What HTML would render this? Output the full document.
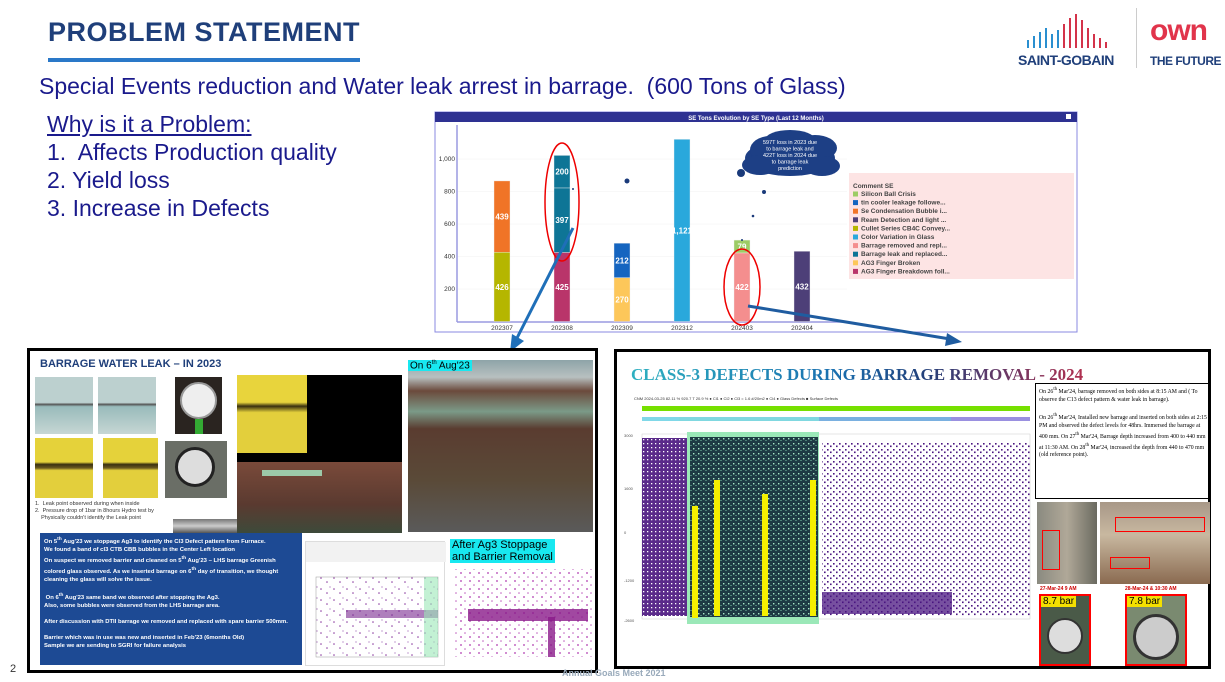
<!DOCTYPE html>
<html><head><meta charset="utf-8">
<style>
*{margin:0;padding:0;box-sizing:border-box}
body{width:1225px;height:682px;position:relative;background:#fff;font-family:"Liberation Sans",sans-serif;overflow:hidden}
.a{position:absolute}
.t{font-size:23px;color:#1a1a8c;line-height:28px;white-space:nowrap}
</style></head><body>
<div class="a" style="left:48px;top:17px;font-size:27px;font-weight:bold;color:#1f3f7a;letter-spacing:0.5px">PROBLEM STATEMENT</div>
<div class="a" style="left:48px;top:58px;width:312px;height:4px;background:#2a78c8"></div>
<div class="a" style="left:1018px;top:10px;width:110px;height:60px">
 <svg width="105" height="40" style="position:absolute;left:0;top:0"><g fill="none" stroke-width="2"><path d="M10 38 V30 M16 38 V26 M22 38 V22 M28 38 V18 M34 38 V24 M40 38 V20" stroke="#2a8fd0"/><path d="M46 38 V14 M52 38 V8 M58 38 V4 M64 38 V10 M70 38 V18 M76 38 V24 M82 38 V28 M88 38 V32" stroke="#d4334a"/></g></svg>
 <div class="a" style="left:0;top:42px;font-size:14px;font-weight:bold;color:#1f3f7a;white-space:nowrap;letter-spacing:-0.5px">SAINT-GOBAIN</div>
</div>
<div class="a" style="left:1136px;top:8px;width:1px;height:60px;background:#ccc"></div>
<div class="a" style="left:1150px;top:14px;font-size:30px;font-weight:bold;color:#e1344b;letter-spacing:-1px">own</div>
<div class="a" style="left:1150px;top:54px;font-size:12px;font-weight:bold;color:#1f3f7a;white-space:nowrap;letter-spacing:-0.5px">THE FUTURE</div>

<div class="a t" style="left:39px;top:72px">Special Events reduction and Water leak arrest in barrage.&nbsp; (600 Tons of Glass)</div>
<div class="a t" style="left:47px;top:110px;text-decoration:underline">Why is it a Problem<span style="text-decoration:none">:</span></div>
<div class="a t" style="left:47px;top:138px">1.&nbsp; Affects Production quality</div>
<div class="a t" style="left:47px;top:166px">2. Yield loss</div>
<div class="a t" style="left:47px;top:194px">3. Increase in Defects</div>

<svg class="a" id="chart" style="left:0;top:0" width="1225" height="682"></svg>

<!-- left panel -->
<div class="a" style="left:27px;top:348px;width:571px;height:325px;border:3px solid #000;background:#fff">
 <div class="a" style="left:10px;top:7px;font-size:11px;font-weight:bold;color:#1f3f7a">BARRAGE WATER LEAK – IN 2023</div>
 <div class="a" style="left:5px;top:26px;width:58px;height:57px;background:linear-gradient(#bcd0cf 45%,#555 48%,#9bb 52%,#c6d6d4)"></div>
 <div class="a" style="left:68px;top:26px;width:58px;height:57px;background:linear-gradient(#bcd0cf 45%,#555 48%,#9bb 52%,#c6d6d4)"></div>
 <div class="a" style="left:145px;top:26px;width:47px;height:57px;background:#2a2420"><div class="a" style="left:5px;top:5px;width:37px;height:37px;border-radius:50%;background:#eee;border:2px solid #999"></div><div class="a" style="left:20px;top:42px;width:8px;height:15px;background:#3a3"></div></div>
 <div class="a" style="left:5px;top:87px;width:58px;height:60px;background:linear-gradient(#e5d23a 40%,#3a3010 44%,#6a5a20 50%,#e3cf3c 54%)"></div>
 <div class="a" style="left:73px;top:87px;width:55px;height:60px;background:linear-gradient(#e5d23a 40%,#3a3010 44%,#6a5a20 50%,#e3cf3c 54%)"></div>
 <div class="a" style="left:135px;top:90px;width:62px;height:57px;background:#6a6e66"><div class="a" style="left:10px;top:6px;width:40px;height:40px;border-radius:50%;background:#ddd;border:3px solid #222"></div></div>
 <div class="a" style="left:5px;top:150px;font-size:5.5px;color:#333;line-height:7px">1.&nbsp; Leak point observed during when inside<br>2.&nbsp; Pressure drop of 1bar in 8hours Hydro test by<br>&nbsp;&nbsp;&nbsp;&nbsp;Physically couldn't identify the Leak point</div>
 <div class="a" style="left:143px;top:168px;width:65px;height:14px;background:linear-gradient(#777,#ccc,#555)"></div>
 <div class="a" style="left:207px;top:24px;width:165px;height:87px;background:#000"><div class="a" style="left:0;top:0;width:70px;height:78px;background:linear-gradient(#e8d43c 35%,#3a3010 40%,#e3cf3c 48%)"></div></div>
 <div class="a" style="left:207px;top:111px;width:165px;height:71px;background:linear-gradient(#7a4a3a,#5a3a30 60%,#3d4a3a)"><div class="a" style="left:25px;top:8px;width:60px;height:6px;background:#9cc9a8"></div></div>
 <div class="a" style="left:378px;top:9px;width:185px;height:172px;background:linear-gradient(#8ea4a8 0,#b8c0c0 10%,#6b4a3c 18%,#7b9a88 30%,#5a3c30 40%,#5a4a38 70%,#5a5a5a 100%)"></div>
 <div class="a" style="left:378px;top:9px;background:#18e8f0;font-size:10px;padding:0 2px">On 6<sup style="font-size:6px">th</sup> Aug'23</div>
 <div class="a" style="left:10px;top:182px;width:262px;height:132px;background:#1d4a94;color:#fff;font-size:5.9px;font-weight:bold;line-height:7.9px;padding:3px 4px;overflow:hidden">On 5<sup>th</sup> Aug'23 we stoppage Ag3 to identify the Cl3 Defect pattern from Furnace.<br>We found a band of cl3 CTB CBB bubbles in the Center Left location<br>On suspect we removed barrier and cleaned on 5<sup>th</sup> Aug'23 – LHS barrage Greenish colored glass observed. As we inserted barrage on 6<sup>th</sup> day of transition, we thought cleaning the glass will solve the issue.<br><br>&nbsp;On 6<sup>th</sup> Aug'23 same band we observed after stopping the Ag3.<br>Also, some bubbles were observed from the LHS barrage area.<br><br>After discussion with DTII barrage we removed and replaced with spare barrier 500mm.<br><br>Barrier which was in use was new and inserted in Feb'23 (6months Old)<br>Sample we are sending to SGRI for failure analysis</div>
 <div class="a" style="left:275px;top:190px;width:140px;height:125px;background:#fff;border:1px solid #ddd">
  <svg width="140" height="125"><defs><pattern id="pd1" width="13" height="11" patternUnits="userSpaceOnUse"><circle cx="2" cy="3" r=".8" fill="#8a3aa0"/><circle cx="8" cy="7" r=".8" fill="#8a3aa0"/><circle cx="11" cy="1" r=".6" fill="#9a5ab0"/></pattern></defs><rect x="0" y="0" width="140" height="20" fill="#f2f2f2"/><rect x="10" y="35" width="122" height="80" fill="url(#pd1)" stroke="#999" stroke-width=".5"/><rect x="40" y="68" width="92" height="8" fill="#7a2a90" opacity=".6"/><rect x="118" y="35" width="14" height="80" fill="#9be8b8" opacity=".6"/></svg></div>
 <div class="a" style="left:420px;top:188px;width:145px;height:127px;background:#fff">
  <svg width="145" height="127"><defs><pattern id="pd2" width="9" height="8" patternUnits="userSpaceOnUse"><circle cx="2" cy="2" r=".9" fill="#b03ab0"/><circle cx="6" cy="6" r=".8" fill="#c060c0"/></pattern></defs><rect x="3" y="30" width="140" height="88" fill="url(#pd2)"/><rect x="18" y="70" width="120" height="12" fill="#8a1a8a" opacity=".8"/><rect x="98" y="78" width="7" height="40" fill="#8a1a8a" opacity=".8"/></svg></div>
 <div class="a" style="left:420px;top:188px;background:#18e8f0;font-size:11px;line-height:12px;padding:0 2px">After Ag3 Stoppage<br>and Barrier Removal</div>
</div>

<!-- right panel -->
<div class="a" style="left:614px;top:349px;width:597px;height:320px;border:3px solid #000;background:#fff">
 <div class="a" style="left:14px;top:13px;font-family:'Liberation Serif',serif;font-size:17px;font-weight:bold;background:linear-gradient(90deg,#2eb0c0,#1a70b0 45%,#23407a 65%,#b03050);-webkit-background-clip:text;color:transparent;white-space:nowrap">CLASS-3 DEFECTS DURING BARRAGE REMOVAL - 2024</div>
 <svg class="a" style="left:5px;top:30px" width="410" height="280">
  <defs>
   <pattern id="pp" width="6" height="6" patternUnits="userSpaceOnUse"><rect x="1" y="1" width="1.6" height="1.6" fill="#4a1580"/><rect x="4" y="3.5" width="1.6" height="1.6" fill="#4a1580"/></pattern>
   <pattern id="pp2" width="4" height="4" patternUnits="userSpaceOnUse"><rect width="4" height="4" fill="#5a2a8a"/><rect x="1" y="1" width="1.3" height="1.3" fill="#fff"/></pattern>
   <pattern id="pg" width="5" height="5" patternUnits="userSpaceOnUse"><rect width="5" height="5" fill="#1e3a44"/><rect x="1" y="1" width="1.4" height="1.4" fill="#a8e8c8"/><rect x="3.5" y="3" width="1" height="1" fill="#7ac8a8"/></pattern>
  </defs>
  <text x="12" y="18" font-size="4" fill="#333">CNM 2024-03-25 82.11 %  920.7 T  20.9 %   ● Cl1   ● Cl2   ● Cl3 = 1.6 #/20m2   ● Cl4   ● Glass Defects  ■ Surface Defects</text>
  <rect x="20" y="24" width="388" height="5" fill="#76e000"/>
  <rect x="20" y="35" width="37" height="4" fill="#80d8e8"/><rect x="57" y="35" width="140" height="4" fill="#80d8e0"/><rect x="197" y="35" width="132" height="4" fill="#7ab0e0"/><rect x="329" y="35" width="79" height="4" fill="#9a90e0"/>
  <rect x="20" y="52" width="388" height="185" fill="#fff" stroke="#ccc" stroke-width=".5"/>
  <rect x="20" y="56" width="45" height="178" fill="url(#pp2)"/>
  <rect x="200" y="60" width="208" height="175" fill="url(#pp)"/>
  <rect x="200" y="210" width="130" height="22" fill="#4a1580" opacity=".75"/>
  <rect x="65" y="50" width="132" height="192" fill="#9be8b8"/>
  <rect x="68" y="55" width="128" height="180" fill="url(#pg)"/>
  <rect x="70" y="124" width="6" height="112" fill="#f4f000"/><rect x="92" y="98" width="6" height="136" fill="#f4f000"/><rect x="140" y="112" width="6" height="122" fill="#f4f000"/><rect x="188" y="98" width="6" height="136" fill="#f4f000"/>
  <g font-size="4" fill="#555"><text x="2" y="55">3000</text><text x="2" y="108">1600</text><text x="2" y="152">0</text><text x="2" y="200">-1200</text><text x="2" y="240">-2600</text></g>
 </svg>
 <div class="a" style="left:418px;top:31px;width:176px;height:116px;border:1px solid #000;font-family:'Liberation Serif',serif;font-size:5.8px;line-height:7.8px;padding:2px 3px;overflow:hidden">On 26<sup>th</sup> Mar'24, barrage removed on both sides at 8:15 AM and ( To observe the C13 defect pattern &amp; water leak in barrage).<br><br>On 26<sup>th</sup> Mar'24, Installed new barrage and inserted on both sides at 2:15 PM and observed the defect levels for 48hrs. Immersed the barrage at 400 mm. On 27<sup>th</sup> Mar'24, Barrage depth increased from 400 to 440 mm at 11:30 AM. On 28<sup>th</sup> Mar'24, increased the depth from 440 to 470 mm (old reference point).</div>
 <div class="a" style="left:420px;top:150px;width:60px;height:82px;background:linear-gradient(90deg,#8a8a80,#b0a898,#6a6a60)"><div class="a" style="left:5px;top:28px;width:18px;height:40px;border:1.5px solid red"></div></div>
 <div class="a" style="left:483px;top:150px;width:110px;height:82px;background:linear-gradient(#a89888,#c8b8a0 40%,#8a6a50)"><div class="a" style="left:15px;top:15px;width:90px;height:15px;border:1.5px solid red"></div><div class="a" style="left:10px;top:55px;width:40px;height:12px;border:1.5px solid red"></div></div>
 <div class="a" style="left:423px;top:234px;font-size:5px;color:#c00;font-weight:bold">27-Mar-24 9 AM</div>
 <div class="a" style="left:508px;top:234px;font-size:5px;color:#c00;font-weight:bold">28-Mar-24 &amp; 10:30 AM</div>
 <div class="a" style="left:422px;top:242px;width:52px;height:72px;background:#4a5a48;border:2px solid red"><div class="a" style="left:6px;top:22px;width:36px;height:36px;border-radius:50%;background:#ddd;border:2px solid #333"></div><div class="a" style="left:0;top:0;background:#f4e000;font-size:10px;padding:0 2px">8.7 bar</div></div>
 <div class="a" style="left:508px;top:242px;width:62px;height:72px;background:#7a8a70;border:2px solid red"><div class="a" style="left:6px;top:18px;width:46px;height:46px;border-radius:50%;background:#ccc;border:3px solid #333"></div><div class="a" style="left:0;top:0;background:#f4e000;font-size:10px;padding:0 2px">7.8 bar</div></div>
</div>

<div class="a" style="left:10px;top:663px;font-size:11px;color:#333">2</div>
<div class="a" style="left:562px;top:668px;font-size:9px;font-weight:bold;color:#9ab">Annual Goals Meet 2021</div>

<script>
const categories=['202307','202308','202309','202312','202403','202404'];
const cullet=[426,0,0,0,0,0];
const seCondensation=[439,0,0,0,0,0];
const ag3Breakdown=[0,425,0,0,0,0];
const barrageLeak=[0,397,0,0,0,0];
const barrageLeak2=[0,200,0,0,0,0];
const ag3Broken=[0,0,270,0,0,0];
const tinCooler=[0,0,212,0,0,0];
const colorVariation=[0,0,0,1121,0,0];
const barrageRemoved=[0,0,0,0,422,0];
const siliconBall=[0,0,0,0,79,0];
const ream=[0,0,0,0,0,432];
const yTicks=[200,400,600,800,1000];
const legendLabels=['Silicon Ball Crisis','tin cooler leakage followe...','Se Condensation Bubble i...','Ream Detection and light ...','Cullet Series CB4C Convey...','Color Variation in Glass','Barrage removed and repl...','Barrage leak and replaced...','AG3 Finger Broken','AG3 Finger Breakdown foll...'];
const legendColors=['#9ccc65','#1565c0','#f07427','#4d3f78','#b5b600','#29a8dc','#f48e8e','#0e7596','#fdc75a','#b9356a'];
const stack=[[cullet,'#b5b600'],[seCondensation,'#f07427'],[ag3Breakdown,'#b9356a'],[barrageLeak,'#0e7596'],[barrageLeak2,'#0e7596'],[ag3Broken,'#fdc75a'],[tinCooler,'#1565c0'],[colorVariation,'#29a8dc'],[barrageRemoved,'#f48e8e'],[siliconBall,'#9ccc65'],[ream,'#4d3f78']];
const NS='http://www.w3.org/2000/svg';
const svg=document.getElementById('chart');
function el(t,a,p){const e=document.createElementNS(NS,t);for(const k in a)e.setAttribute(k,a[k]);(p||svg).appendChild(e);return e;}
const y0=321.5, pxPer=130/800;
const yS=v=>y0-v*pxPer;
const xS=i=>502+i*60;
let f=el('rect',{x:435,y:112,width:642,height:220,fill:'#fff',stroke:'#8a8ae0','stroke-width':1});


let tb=el('rect',{x:435,y:112,width:642,height:10,fill:'#2e3192'});


let tt=el('text',{x:756,y:120,'font-size':6,'font-weight':'bold',fill:'#fff','text-anchor':'middle'});tt.textContent='SE Tons Evolution by SE Type (Last 12 Months)';


el('rect',{x:1066,y:114,width:5,height:5,fill:'#fff'});
el('line',{x1:457,y1:125,x2:457,y2:322,stroke:'#9a9ae0','stroke-width':1.5});
el('line',{x1:457,y1:322,x2:847,y2:322,stroke:'#9a9ae0','stroke-width':1.5});
yTicks.forEach(v=>{
 el('line',{x1:458,y1:yS(v),x2:847,y2:yS(v),stroke:'#f0f0f0','stroke-width':.5});
 const t=el('text',{x:455,y:yS(v)+2,'font-size':6.5,fill:'#333','text-anchor':'end'});t.textContent=v.toLocaleString('en-US');
 
 
});
categories.forEach((c,i)=>{
 const t=el('text',{x:xS(i),y:330,'font-size':6.5,fill:'#333','text-anchor':'middle'});t.textContent=c;
 
 
 let base=0;
 stack.forEach(([arr,col])=>{
  const v=arr[i];if(!v)return;
  const r=el('rect',{x:xS(i)-8,y:yS(base+v),width:16,height:v*pxPer,fill:col,stroke:'#eee','stroke-width':.4});
  
  
  const l=el('text',{x:xS(i),y:yS(base+v/2)+3,'font-size':8,'font-weight':'bold',fill:'#fff','text-anchor':'middle'});l.textContent=v.toLocaleString('en-US');
  
  
  base+=v;
 });
});
[[573,189,1],[627,181,2.5],[741,173,4],[764,192,2],[753,216,1.3],[742,240,1]].forEach(d=>el('circle',{cx:d[0],cy:d[1],r:d[2],fill:'#1a3a7a'}));
let lg=el('rect',{x:849,y:173,width:225,height:106,fill:'#fde4e4'});


let lt=el('text',{x:853,y:188,'font-size':6.5,'font-weight':'bold',fill:'#444'});lt.textContent='Comment SE';
legendLabels.forEach((s,i)=>{
 const yy=196+i*8.6;
 el('rect',{x:853,y:yy-4.5,width:5,height:5,fill:legendColors[i]});
 const t=el('text',{x:861,y:yy,'font-size':6.5,'font-weight':'bold',fill:'#444'});t.textContent=s;
 
 
});
const cg=el('g',{fill:'#1d3f85'});


[[790,158,45,18],[770,150,20,14],[815,148,22,13],[790,140,25,10],[760,165,18,10],[822,166,18,10]].forEach(c=>el('ellipse',{cx:c[0],cy:c[1],rx:c[2],ry:c[3]},cg));
['597T loss in 2023 due','to barrage leak and','422T loss in 2024 due','to barrage leak','prediction'].forEach((s,i)=>{const t=el('text',{x:790,y:144+i*6.5,'font-size':5.5,fill:'#fff','text-anchor':'middle'});t.textContent=s;});
el('ellipse',{cx:562,cy:202,rx:17,ry:59,fill:'none',stroke:'#e00','stroke-width':1.5});
el('ellipse',{cx:742,cy:287,rx:18,ry:38,fill:'none',stroke:'#e00','stroke-width':1.5});
el('line',{x1:573,y1:228,x2:517,y2:338,stroke:'#1f6fb8','stroke-width':3});
el('polygon',{points:'510,352 512,334 524,341',fill:'#1f6fb8'});
el('line',{x1:748,y1:306,x2:950,y2:339,stroke:'#1f5ca0','stroke-width':3});
el('polygon',{points:'962,342 947,333 945,346',fill:'#1f5ca0'});
</script>
</body></html>
